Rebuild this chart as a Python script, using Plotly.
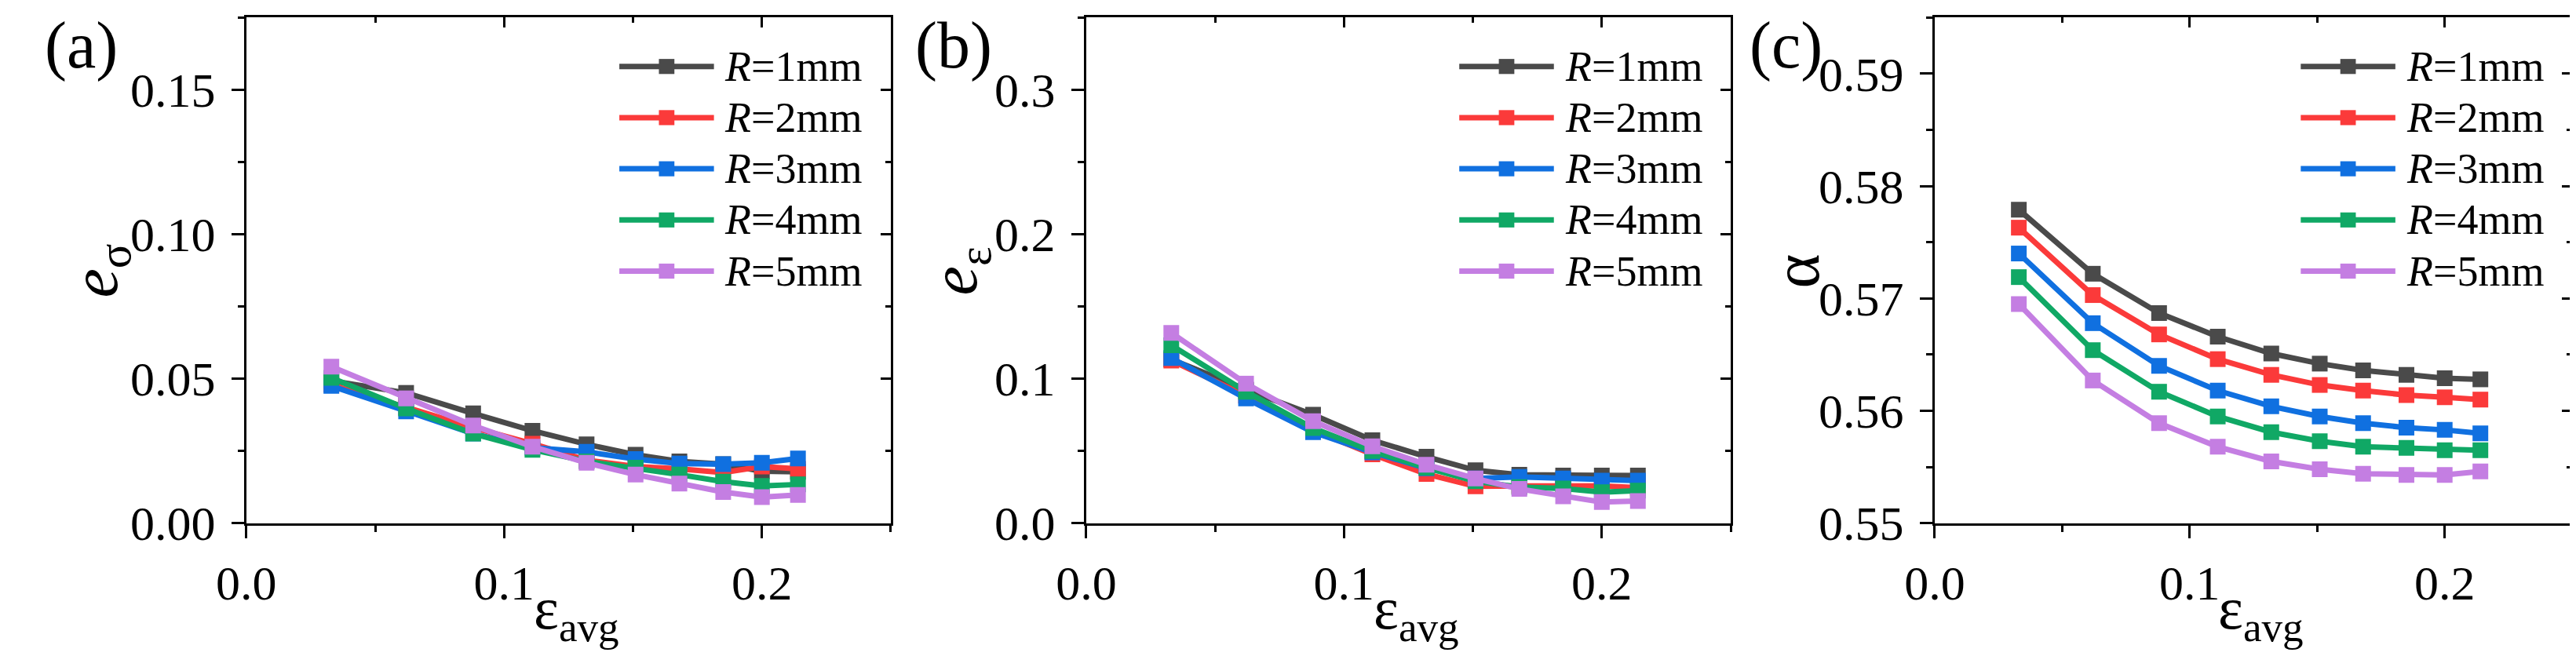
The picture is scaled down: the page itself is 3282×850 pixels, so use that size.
#error indices and alpha vs average strain, 3 panels

import plotly.graph_objects as go

W, H = 3282, 850

strain = [0.033, 0.062, 0.088, 0.111, 0.132, 0.151, 0.168, 0.185, 0.200, 0.214]
names = ["<i>R</i>=1mm", "<i>R</i>=2mm", "<i>R</i>=3mm", "<i>R</i>=4mm", "<i>R</i>=5mm"]

# (a) e_sigma
e_sig_r1 = [0.0493, 0.0451, 0.0380, 0.0320, 0.0273, 0.0237, 0.0214, 0.0204, 0.0180, 0.0178]
e_sig_r2 = [0.0479, 0.0400, 0.0331, 0.0275, 0.0218, 0.0196, 0.0188, 0.0175, 0.0196, 0.0188]
e_sig_r3 = [0.0475, 0.0387, 0.0310, 0.0261, 0.0247, 0.0222, 0.0206, 0.0204, 0.0209, 0.0224]
e_sig_r4 = [0.0503, 0.0397, 0.0310, 0.0254, 0.0214, 0.0192, 0.0168, 0.0144, 0.0129, 0.0134]
e_sig_r5 = [0.0542, 0.0432, 0.0338, 0.0265, 0.0209, 0.0168, 0.0137, 0.0108, 0.0090, 0.0098]

# (b) e_epsilon
e_eps_r1 = [0.1134, 0.0924, 0.0751, 0.0574, 0.0460, 0.0366, 0.0335, 0.0330, 0.0330, 0.0330]
e_eps_r2 = [0.1126, 0.0882, 0.0644, 0.0476, 0.0340, 0.0255, 0.0258, 0.0260, 0.0258, 0.0245]
e_eps_r3 = [0.1143, 0.0863, 0.0630, 0.0490, 0.0380, 0.0310, 0.0320, 0.0310, 0.0295, 0.0295]
e_eps_r4 = [0.1232, 0.0910, 0.0658, 0.0499, 0.0384, 0.0290, 0.0250, 0.0240, 0.0215, 0.0225]
e_eps_r5 = [0.1317, 0.0966, 0.0706, 0.0532, 0.0405, 0.0309, 0.0237, 0.0186, 0.0146, 0.0153]

# (c) alpha
alpha_r1 = [0.5779, 0.5722, 0.5687, 0.5666, 0.5651, 0.5642, 0.5636, 0.5632, 0.5629, 0.5628]
alpha_r2 = [0.5763, 0.5703, 0.5668, 0.5646, 0.5632, 0.5623, 0.5618, 0.5614, 0.5612, 0.5610]
alpha_r3 = [0.5740, 0.5678, 0.5640, 0.5618, 0.5604, 0.5595, 0.5589, 0.5585, 0.5583, 0.5580]
alpha_r4 = [0.5719, 0.5654, 0.5617, 0.5595, 0.5581, 0.5573, 0.5568, 0.5567, 0.5565, 0.5565]
alpha_r5 = [0.5695, 0.5627, 0.5589, 0.5568, 0.5555, 0.5548, 0.5544, 0.5543, 0.5543, 0.5546]

#colors
colors = ["#4a4a4a", "#fb3a3a", "#1070e0", "#10a865", "#c47ee2"]

font = "Liberation Serif"

panels = [
    {"tag": "(a)", "series": [e_sig_r1, e_sig_r2, e_sig_r3, e_sig_r4, e_sig_r5],
     "ytitle": "<i>e</i><sub>σ</sub>", "yrange": [0, 0.175], "dtick": 0.05, "minor": 0.025,
     "fmt": ".2f", "left": 270, "right": 1101, "tagx": 57, "ytx": 80},
    {"tag": "(b)", "series": [e_eps_r1, e_eps_r2, e_eps_r3, e_eps_r4, e_eps_r5],
     "ytitle": "<i>e</i><sub>ε</sub>", "yrange": [0, 0.35], "dtick": 0.1, "minor": 0.05,
     "fmt": ".1f", "left": 1353, "right": 2184, "tagx": 1182, "ytx": 1189},
    {"tag": "(c)", "series": [alpha_r1, alpha_r2, alpha_r3, alpha_r4, alpha_r5],
     "ytitle": "α", "yrange": [0.55, 0.595], "dtick": 0.01, "minor": 0.005,
     "fmt": ".2f", "left": 2447, "right": 3269, "tagx": 2255, "ytx": 2268},
]

top, bottom = 15, 687


def px(x):
    return x / W


def py(y):
    return 1 - y / H


fig = go.Figure()
shapes = []
annotations = []

for i, p in enumerate(panels):
    n = i + 1
    xa = "x" if n == 1 else f"x{n}"
    ya = "y" if n == 1 else f"y{n}"
    xo, yo = f"x{n + 3}", f"y{n + 3}"
    xdom = [px(p["left"]), px(p["right"])]
    ydom = [py(bottom), py(top)]

    for vals, c in zip(p["series"], colors):
        fig.add_trace(go.Scatter(
            x=strain, y=vals, xaxis=xa, yaxis=ya, mode="lines+markers",
            line=dict(color=c, width=7),
            marker=dict(symbol="square", size=20, color=c),
            showlegend=False,
        ))
    # empty traces so the secondary (top / right) axes get drawn
    fig.add_trace(go.Scatter(x=[None], y=[None], xaxis=xo, yaxis=ya, showlegend=False, hoverinfo="skip"))
    fig.add_trace(go.Scatter(x=[None], y=[None], xaxis=xa, yaxis=yo, showlegend=False, hoverinfo="skip"))

    base = dict(showgrid=False, zeroline=False, color="black",
                tickfont=dict(family=font, size=62, color="black"))
    fig.layout[xa.replace("x", "xaxis")] = dict(
        base, domain=xdom, anchor=ya, range=[0, 0.25],
        tick0=0, dtick=0.1, tickformat=".1f", ticks="outside", ticklen=16, tickwidth=3,
        ticklabelstandoff=4,
        minor=dict(dtick=0.05, ticks="outside", ticklen=8, tickwidth=3, tickcolor="black"),
        showline=True, linewidth=3, linecolor="black", mirror=True,
    )
    fig.layout[ya.replace("y", "yaxis")] = dict(
        base, domain=ydom, anchor=xa, range=p["yrange"],
        tick0=p["yrange"][0], dtick=p["dtick"], tickformat=p["fmt"], ticks="outside",
        ticklen=16, tickwidth=3, ticklabelstandoff=8,
        minor=dict(dtick=p["minor"], ticks="outside", ticklen=8, tickwidth=3, tickcolor="black"),
        showline=True, linewidth=3, linecolor="black", mirror=True,
    )
    # top / right ticks point inward
    fig.layout[xo.replace("x", "xaxis")] = dict(
        overlaying=xa, anchor=ya, side="top", range=[0, 0.25],
        tick0=0, dtick=0.1, ticks="inside", ticklen=13, tickwidth=3, tickcolor="black",
        showticklabels=False,
        minor=dict(dtick=0.05, ticks="inside", ticklen=7, tickwidth=3, tickcolor="black"),
        showgrid=False, zeroline=False, showline=False,
    )
    fig.layout[yo.replace("y", "yaxis")] = dict(
        overlaying=ya, anchor=xa, side="right", range=p["yrange"],
        tick0=p["yrange"][0], dtick=p["dtick"], ticks="inside", ticklen=13, tickwidth=3,
        tickcolor="black", showticklabels=False,
        minor=dict(dtick=p["minor"], ticks="inside", ticklen=7, tickwidth=3, tickcolor="black"),
        showgrid=False, zeroline=False, showline=False,
    )

    cx = (p["left"] + p["right"]) / 2
    annotations.append(dict(text="ε<sub>avg</sub>", x=px(cx + 10), y=py(806), xref="paper", yref="paper",
                            showarrow=False, xanchor="center", yanchor="middle",
                            font=dict(family=font, size=76, color="black")))
    annotations.append(dict(text=p["ytitle"], x=px(p["ytx"]), y=py(352), xref="paper", yref="paper",
                            showarrow=False, textangle=-90, xanchor="center", yanchor="middle",
                            font=dict(family=font, size=84, color="black")))
    annotations.append(dict(text=p["tag"], x=px(p["tagx"]), y=py(52), xref="paper", yref="paper",
                            showarrow=False, xanchor="center", yanchor="middle",
                            font=dict(family=font, size=84, color="black")))

    # legend drawn by hand so the sample line is long like the original
    r = p["right"]
    for k, (nm, c) in enumerate(zip(names, colors)):
        ry = 80 + 68 * k
        shapes.append(dict(type="line", xref="paper", yref="paper",
                           x0=px(r - 350), x1=px(r - 228), y0=py(ry), y1=py(ry),
                           line=dict(color=c, width=7)))
        shapes.append(dict(type="rect", xref="paper", yref="paper",
                           x0=px(r - 299), x1=px(r - 279), y0=py(ry - 10), y1=py(ry + 10),
                           fillcolor=c, line=dict(width=0)))
        annotations.append(dict(text=nm, x=px(r - 216), y=py(ry), xref="paper", yref="paper",
                                showarrow=False, xanchor="left", yanchor="middle",
                                font=dict(family=font, size=54, color="black")))

fig.update_layout(
    width=W, height=H,
    margin=dict(l=0, r=0, t=0, b=0),
    paper_bgcolor="white", plot_bgcolor="rgba(0,0,0,0)",
    shapes=shapes, annotations=annotations,
)

fig.write_html("out.html")
